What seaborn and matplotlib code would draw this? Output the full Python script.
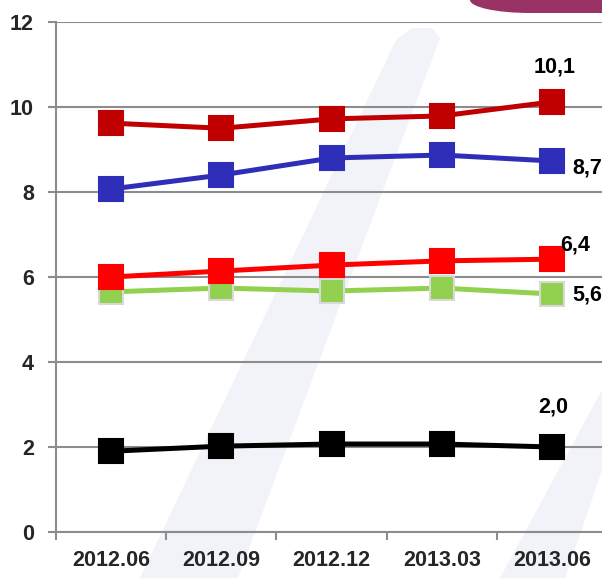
import pandas as pd
import matplotlib.pyplot as plt
import seaborn as sns
from matplotlib.patches import Polygon, Ellipse, Rectangle

periods = ['2012.06', '2012.09', '2012.12', '2013.03', '2013.06']

green_vals = [5.65, 5.74, 5.67, 5.74, 5.6]
red_vals = [6.0, 6.14, 6.28, 6.38, 6.42]
blue_vals = [8.07, 8.4, 8.8, 8.87, 8.73]
darkred_vals = [9.62, 9.5, 9.72, 9.79, 10.12]
black_vals = [1.9, 2.02, 2.07, 2.07, 2.0]

y_ticks = [0, 2, 4, 6, 8, 10, 12]

# series: values, colour, marker edge colour, end-label offset (points)
series = [
    (green_vals, '#92D050', '#D9D9D9', (15, -1)),
    (red_vals, '#FF0000', '#FF0000', (6, 10)),
    (blue_vals, '#2E2EB8', '#2E2EB8', (15, -5)),
    (darkred_vals, '#C00000', '#C00000', (2, 25)),
    (black_vals, '#000000', '#000000', (1, 29)),
]

sns.set_style('white')
plt.rcParams['font.family'] = ['Liberation Sans', 'DejaVu Sans']
plt.rcParams['font.weight'] = 'bold'
FS = 15.5

W, H = 602, 578
fig = plt.figure(figsize=(W / 100, H / 100), dpi=100)


def fx(x):
    return x / W


def fy(y):
    return 1 - y / H


# faint diagonal watermark bands
band1 = Polygon([(fx(396), fy(40)), (fx(412), fy(28)), (fx(432), fy(28)), (fx(440), fy(38)),
                 (fx(238), fy(578)), (fx(140), fy(578))],
                closed=True, transform=fig.transFigure, facecolor='#F1F3F9', edgecolor='none', zorder=-2)
band2 = Polygon([(fx(602), fy(390)), (fx(602), fy(470)), (fx(565), fy(578)), (fx(500), fy(578))],
                closed=True, transform=fig.transFigure, facecolor='#F1F3F9', edgecolor='none', zorder=-2)
fig.patches.extend([band1, band2])

# purple tab at top right
fig.patches.append(Ellipse((fx(530), fy(0)), 120 / W, 26 / H, transform=fig.transFigure,
                           facecolor='#993366', edgecolor='none', zorder=-1))
fig.patches.append(Rectangle((fx(528), fy(13)), 80 / W, 13 / H, transform=fig.transFigure,
                             facecolor='#993366', edgecolor='none', zorder=-1))

left, right, top, bottom = 56, 607, 22, 532
ax = fig.add_axes([fx(left), fy(bottom), (right - left) / W, (bottom - top) / H])
ax.patch.set_alpha(0)

for vals, color, edge, off in series:
    df = pd.DataFrame({'period': periods, 'value': vals})
    sns.lineplot(data=df, x='period', y='value', ax=ax, color=color, linewidth=3.6,
                 marker='s', markersize=17, markeredgecolor=edge, markeredgewidth=1.5,
                 sort=False, zorder=3)
    ax.annotate(f'{vals[-1]:.1f}'.replace('.', ','), xy=(len(periods) - 1, vals[-1]),
                xytext=off, textcoords='offset points', ha='left' if off[0] > 5 else 'center',
                va='center', fontsize=FS, fontweight='bold', color='black')

ax.set_xlim(-0.5, len(periods) - 0.5)
ax.set_ylim(0, 12)
ax.set_yticks(y_ticks)
ax.set_yticklabels([str(t) for t in y_ticks])
ax.set_xticks(range(len(periods)))
ax.set_xticklabels(periods)
ax.set_xticks([i - 0.5 for i in range(len(periods) + 1)], minor=True)
ax.set_xlabel('')
ax.set_ylabel('')

ax.grid(axis='y', color='#8C8C8C', linewidth=1.5)
ax.grid(axis='x', visible=False)
for s in ['top', 'right']:
    ax.spines[s].set_visible(False)
ax.spines['left'].set_color('#8C8C8C')
ax.spines['left'].set_linewidth(1.5)
ax.spines['bottom'].set_color('#8C8C8C')
ax.spines['bottom'].set_linewidth(1.5)

ax.tick_params(axis='y', direction='out', length=6, width=1.5, color='#8C8C8C',
               labelsize=FS, pad=10, left=True)
ax.tick_params(axis='x', which='major', length=0, labelsize=FS, pad=13)
ax.tick_params(axis='x', which='minor', direction='out', length=6, width=1.5,
               color='#8C8C8C', bottom=True)
for lbl in ax.get_xticklabels() + ax.get_yticklabels():
    lbl.set_fontweight('bold')

fig.savefig('out.png', dpi=100)
